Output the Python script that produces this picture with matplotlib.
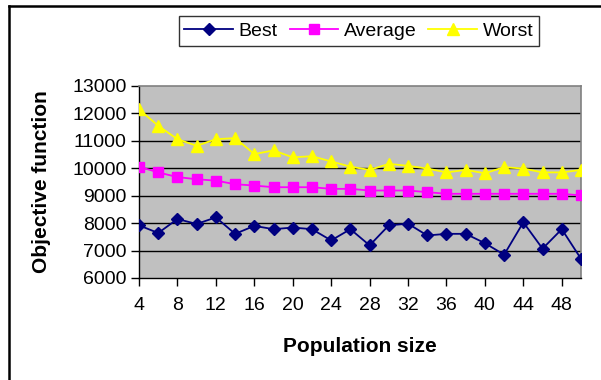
import matplotlib.pyplot as plt
from matplotlib.lines import Line2D

plt.rcParams['font.family'] = ['Liberation Sans', 'DejaVu Sans']

# population sizes 4..50
pop_size = [4, 6, 8, 10, 12, 14, 16, 18, 20, 22, 24, 26,
            28, 30, 32, 34, 36, 38, 40, 42, 44, 46, 48, 50]

best = [7920, 7640, 8150, 7970, 8210, 7610, 7900, 7780, 7840, 7780, 7370, 7780,
        7190, 7920, 7980, 7550, 7610, 7610, 7270, 6850, 8030, 7070, 7780, 6700]
average = [10060, 9850, 9680, 9600, 9550, 9420, 9370, 9310, 9310, 9310, 9250, 9250,
           9190, 9190, 9190, 9130, 9070, 9070, 9070, 9070, 9070, 9070, 9070, 9010]
worst = [12150, 11550, 11060, 10820, 11060, 11100, 10520, 10650, 10400, 10440, 10250, 10060,
         9940, 10160, 10090, 9990, 9850, 9940, 9820, 10040, 9990, 9850, 9850, 9940]

xticks = [4, 8, 12, 16, 20, 24, 28, 32, 36, 40, 44, 48]
yticks = [6000, 7000, 8000, 9000, 10000, 11000, 12000, 13000]

fig = plt.figure(figsize=(6.01, 3.80), dpi=100)
ax = fig.add_axes([139 / 601, 1 - 278 / 380, 442 / 601, 192 / 380])
ax.set_facecolor('#C0C0C0')

ax.plot(pop_size, best, color='#000080', marker='D', markersize=6.5, lw=1.3,
        label='Best', zorder=5)
ax.plot(pop_size, average, color='#FF00FF', marker='s', markersize=7, lw=1.3,
        label='Average', zorder=4)
ax.plot(pop_size, worst, color='#FFFF00', marker='^', markersize=9, lw=1.3,
        label='Worst', zorder=3)

ax.set_xlim(4, 50)
ax.set_ylim(6000, 13000)
ax.set_xticks(xticks)
ax.set_yticks(yticks)
for y in yticks[1:-1]:
    ax.axhline(y, color='black', lw=1, zorder=1)

ax.tick_params(axis='both', direction='out', length=6, width=1, colors='black',
               labelsize=14)
ax.tick_params(axis='x', pad=8)
ax.tick_params(axis='y', pad=3)

for side in ('top', 'right'):
    ax.spines[side].set_color('#808080')
    ax.spines[side].set_linewidth(1.2)
for side in ('left', 'bottom'):
    ax.spines[side].set_color('black')
    ax.spines[side].set_linewidth(1)

fig.text(42 / 601, 1 - 182 / 380, 'Objective function', rotation=90,
         ha='center', va='center', fontsize=15, fontweight='bold')
fig.text(360 / 601, 1 - 347 / 380, 'Population size',
         ha='center', va='center', fontsize=15, fontweight='bold')

leg = ax.legend(loc='center', bbox_to_anchor=(359 / 601, 1 - 31 / 380),
                bbox_transform=fig.transFigure, ncol=3, frameon=True,
                fancybox=False, edgecolor='black', fontsize=14,
                handlelength=2.5, handletextpad=0.3, columnspacing=0.6,
                borderpad=0.3, borderaxespad=0)
leg.get_frame().set_linewidth(1)

# outer frame lines (left and top)
fig.add_artist(Line2D([9 / 601, 9 / 601], [0, 1 - 6 / 380], color='black',
                      lw=1.8, transform=fig.transFigure))
fig.add_artist(Line2D([9 / 601, 1], [1 - 6 / 380, 1 - 6 / 380], color='black',
                      lw=1.8, transform=fig.transFigure))

fig.savefig('out.png', dpi=100)
